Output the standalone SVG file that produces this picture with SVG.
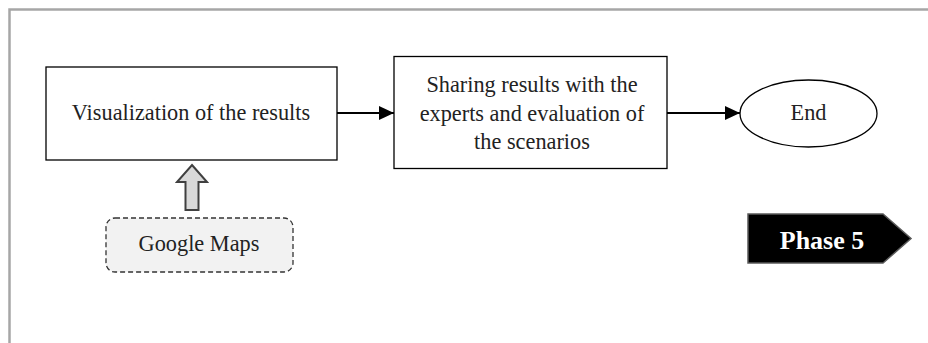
<svg xmlns="http://www.w3.org/2000/svg" width="928" height="343" viewBox="0 0 928 343">
  <defs>
    <marker id="arrowhead" markerWidth="15" markerHeight="14" refX="15" refY="7" orient="auto" markerUnits="userSpaceOnUse">
      <path d="M0,0 L15,7 L0,14 Z" fill="#000"/>
    </marker>
    <style>
      .box { fill: #fff; stroke: #000; stroke-width: 1.3; }
      .label { font-family: "Liberation Serif", "Times New Roman", serif; font-size: 22.3px; fill: #222; text-anchor: middle; }
      .link { stroke: #000; stroke-width: 2.2; fill: none; }
    </style>
  </defs>

  <!-- frame -->
  <path d="M9.5,343 L9.5,9.5 L928,9.5" fill="none" stroke="#a6a6a6" stroke-width="2.5"/>

  <g id="connectors">
    <line class="link" x1="337" y1="113" x2="394" y2="113" marker-end="url(#arrowhead)"/>
    <line class="link" x1="667" y1="113" x2="740" y2="113" marker-end="url(#arrowhead)"/>
    <!-- block arrow from data source up to visualization -->
    <path d="M192,165 L207,182 L198.5,182 L198.5,210 L185.5,210 L185.5,182 L177,182 Z" fill="#d9d9d9" stroke="#404040" stroke-width="2"/>
  </g>

  <g id="visualization">
    <rect class="box" x="46" y="67" width="291" height="93"/>
    <text class="label" x="191" y="120">Visualization of the results</text>
  </g>

  <g id="sharing">
    <rect class="box" x="394" y="56.5" width="273" height="112"/>
    <text class="label" x="532" y="92">Sharing results with the</text>
    <text class="label" x="532" y="121">experts and evaluation of</text>
    <text class="label" x="532" y="149">the scenarios</text>
  </g>

  <g id="end">
    <ellipse cx="808.5" cy="113.5" rx="68.5" ry="33.5" fill="#fff" stroke="#000" stroke-width="1.3"/>
    <text class="label" x="808.5" y="120">End</text>
  </g>

  <g id="google-maps">
    <rect x="106" y="218" width="187" height="54" rx="9" ry="9" fill="#f2f2f2" stroke="#333" stroke-width="1.3" stroke-dasharray="5,3"/>
    <text class="label" x="199" y="251">Google Maps</text>
  </g>

  <g id="phase-5">
    <path d="M748,214 L883,214 L911,238.5 L883,263 L748,263 Z" fill="#000" stroke="#595959" stroke-width="1.5"/>
    <text x="822" y="249" font-family="'Liberation Serif', 'Times New Roman', serif" font-size="26px" font-weight="bold" fill="#fff" text-anchor="middle">Phase 5</text>
  </g>
</svg>
